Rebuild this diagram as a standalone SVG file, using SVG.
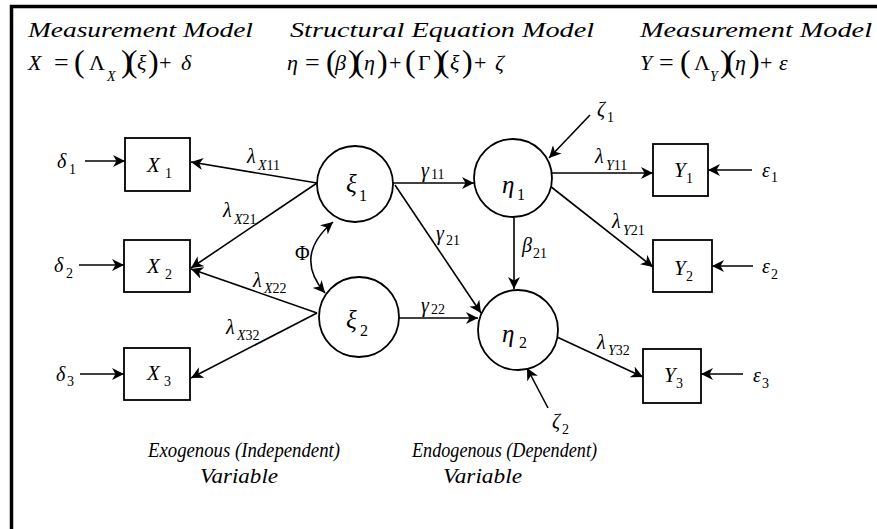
<svg xmlns="http://www.w3.org/2000/svg" width="877" height="529" viewBox="0 0 877 529">
<defs>
<marker id="ah" markerWidth="13" markerHeight="12" refX="12" refY="6" orient="auto-start-reverse" markerUnits="userSpaceOnUse">
<path d="M0,0 L12,6 L0,12 L3.5,6 Z" fill="#000"/>
</marker>
</defs>
<style>
text{font-family:"Liberation Serif","Times New Roman",serif;fill:#000}
.it{font-style:italic}
.hd{font-size:20px;font-style:italic}
.eq{font-size:22px}
.eqs{font-size:26px}
.par{font-size:32px}
.pp{font-size:32px;letter-spacing:-5px}
.sub{font-size:14px}
.nl{font-size:21px;font-style:italic}
.gl{font-size:25px;font-style:italic}
.gs{font-size:16px}
.el{font-size:20px;font-style:italic}
.ft{font-size:22px;font-style:italic}
.edge{stroke:#000;stroke-width:1.6;fill:none;marker-end:url(#ah)}
.box,.circ{fill:#fff;stroke:#000;stroke-width:1.8}
</style>
<rect width="877" height="529" fill="#fff"/>
<path d="M11.5,529 V6.5 H877" fill="none" stroke="#000" stroke-width="3.5"/>

<g id="headers">
<text class="hd" x="28" y="37" textLength="225" lengthAdjust="spacingAndGlyphs">Measurement Model</text>
<text class="hd" x="290" y="37" textLength="304" lengthAdjust="spacingAndGlyphs">Structural Equation Model</text>
<text class="hd" x="640" y="37" textLength="232" lengthAdjust="spacingAndGlyphs">Measurement Model</text>
</g>

<g id="equations">
<text class="eq"><tspan class="it" x="28" y="70">X</tspan><tspan class="eqs" x="54" y="71">=</tspan><tspan class="par" x="74" y="72">(</tspan><tspan x="89" y="70">Λ</tspan><tspan class="sub it" x="107" y="81">X</tspan><tspan class="pp" x="121" y="72">)(</tspan><tspan class="it" x="137" y="70">ξ</tspan><tspan class="par" x="148" y="72">)</tspan><tspan x="159" y="70">+</tspan><tspan class="it" x="181" y="70">δ</tspan></text>
<text class="eq"><tspan class="it" x="287" y="70">η</tspan><tspan class="eqs" x="305" y="71">=</tspan><tspan class="par" x="326" y="72">(</tspan><tspan class="it" x="335" y="70">β</tspan><tspan class="pp" x="348" y="72">)(</tspan><tspan class="it" x="364" y="70">η</tspan><tspan class="par" x="377" y="72">)</tspan><tspan x="389" y="70">+</tspan><tspan class="par" x="405" y="72">(</tspan><tspan x="418" y="70">Γ</tspan><tspan class="pp" x="433" y="72">)(</tspan><tspan class="it" x="450" y="70">ξ</tspan><tspan class="par" x="462" y="72">)</tspan><tspan x="474" y="70">+</tspan><tspan class="it" x="495" y="70">ζ</tspan></text>
<text class="eq"><tspan class="it" x="640" y="70">Y</tspan><tspan class="eqs" x="659" y="71">=</tspan><tspan class="par" x="680" y="72">(</tspan><tspan x="694" y="70">Λ</tspan><tspan class="sub it" x="710" y="81">Y</tspan><tspan class="pp" x="720" y="72">)(</tspan><tspan class="it" x="735" y="70">η</tspan><tspan class="par" x="749" y="72">)</tspan><tspan x="760" y="70">+</tspan><tspan class="it" x="779" y="70">ε</tspan></text>
</g>

<g id="connectors">
<line class="edge" x1="85" y1="161" x2="125" y2="161"/>
<line class="edge" x1="79" y1="265" x2="124" y2="265"/>
<line class="edge" x1="80" y1="374" x2="124" y2="374"/>
<line class="edge" x1="317" y1="183" x2="191" y2="162"/>
<line class="edge" x1="317" y1="183" x2="191" y2="268"/>
<line class="edge" x1="317" y1="313" x2="191" y2="269"/>
<line class="edge" x1="317" y1="313" x2="191" y2="378"/>
<path class="edge" d="M333,222 Q293,256 325,293" marker-start="url(#ah)"/>
<line class="edge" x1="393" y1="183" x2="474" y2="183"/>
<line class="edge" x1="395" y1="185" x2="481" y2="313"/>
<line class="edge" x1="399" y1="318" x2="478" y2="318"/>
<line class="edge" x1="514" y1="218" x2="514" y2="289"/>
<line class="edge" x1="590" y1="115" x2="549" y2="158"/>
<line class="edge" x1="548" y1="408" x2="527" y2="368"/>
<line class="edge" x1="552" y1="173" x2="653" y2="173"/>
<line class="edge" x1="550" y1="186" x2="653" y2="267"/>
<line class="edge" x1="557" y1="337" x2="643" y2="377"/>
<line class="edge" x1="752" y1="170" x2="708" y2="170"/>
<line class="edge" x1="753" y1="266" x2="712" y2="266"/>
<line class="edge" x1="743" y1="374" x2="701" y2="374"/>
</g>

<g id="X1"><rect class="box" x="125" y="138" width="65" height="53"/><text class="nl" x="147" y="172">X<tspan class="sub" font-style="normal" x="165" y="178">1</tspan></text></g>
<g id="X2"><rect class="box" x="124" y="240" width="66" height="52"/><text class="nl" x="147" y="273">X<tspan class="sub" font-style="normal" x="165" y="279">2</tspan></text></g>
<g id="X3"><rect class="box" x="124" y="348" width="66" height="52"/><text class="nl" x="147" y="380">X<tspan class="sub" font-style="normal" x="164" y="386">3</tspan></text></g>

<g id="Y1"><rect class="box" x="653" y="144" width="55" height="52"/><text class="nl" x="674" y="177">Y<tspan class="sub" font-style="normal" x="686" y="183">1</tspan></text></g>
<g id="Y2"><rect class="box" x="653" y="240" width="59" height="52"/><text class="nl" x="674" y="275">Y<tspan class="sub" font-style="normal" x="686" y="281">2</tspan></text></g>
<g id="Y3"><rect class="box" x="643" y="349" width="58" height="54"/><text class="nl" x="664" y="382">Y<tspan class="sub" font-style="normal" x="676" y="388">3</tspan></text></g>

<g id="xi1"><circle class="circ" cx="355" cy="184" r="38"/><text class="gl" x="346" y="192">ξ<tspan class="gs" font-style="normal" x="359" y="201">1</tspan></text></g>
<g id="xi2"><circle class="circ" cx="359" cy="317" r="40"/><text class="gl" x="346" y="328">ξ<tspan class="gs" font-style="normal" x="360" y="336">2</tspan></text></g>
<g id="eta1"><circle class="circ" cx="513" cy="178" r="39"/><text class="gl" x="502" y="193">η<tspan class="gs" font-style="normal" x="517" y="200">1</tspan></text></g>
<g id="eta2"><circle class="circ" cx="518" cy="330" r="40"/><text class="gl" x="502" y="342">η<tspan class="gs" font-style="normal" x="519" y="348">2</tspan></text></g>

<g id="errors">
<text class="el" x="57" y="168">δ<tspan class="sub" font-style="normal" x="69" y="174">1</tspan></text>
<text class="el" x="54" y="272">δ<tspan class="sub" font-style="normal" x="66" y="278">2</tspan></text>
<text class="el" x="56" y="381">δ<tspan class="sub" font-style="normal" x="67" y="386">3</tspan></text>
<text class="el" x="762" y="177">ε<tspan class="sub" font-style="normal" x="771" y="182">1</tspan></text>
<text class="el" x="762" y="273">ε<tspan class="sub" font-style="normal" x="771" y="279">2</tspan></text>
<text class="el" x="753" y="382">ε<tspan class="sub" font-style="normal" x="762" y="388">3</tspan></text>
<text class="el" x="597" y="116">ζ<tspan class="sub" font-style="normal" x="607" y="122">1</tspan></text>
<text class="el" x="552" y="428">ζ<tspan class="sub" font-style="normal" x="562" y="434">2</tspan></text>
</g>

<g id="edge-labels">
<text class="el" x="247" y="163">λ<tspan class="sub" x="258" y="170">X</tspan><tspan class="sub" font-style="normal">11</tspan></text>
<text class="el" x="223" y="217">λ<tspan class="sub" x="234" y="224">X</tspan><tspan class="sub" font-style="normal">21</tspan></text>
<text class="el" x="253" y="287">λ<tspan class="sub" x="264" y="293">X</tspan><tspan class="sub" font-style="normal">22</tspan></text>
<text class="el" x="226" y="334">λ<tspan class="sub" x="237" y="340">X</tspan><tspan class="sub" font-style="normal">32</tspan></text>
<text class="el" x="421" y="177">γ<tspan class="sub" font-style="normal" x="431" y="179">11</tspan></text>
<text class="el" x="436" y="240">γ<tspan class="sub" font-style="normal" x="446" y="245">21</tspan></text>
<text class="el" x="421" y="312">γ<tspan class="sub" font-style="normal" x="431" y="314">22</tspan></text>
<text class="el" x="522" y="252">β<tspan class="sub" font-style="normal" x="533" y="258">21</tspan></text>
<text class="el" x="595" y="163">λ<tspan class="sub" x="606" y="170">Y</tspan><tspan class="sub" font-style="normal">11</tspan></text>
<text class="el" x="612" y="228">λ<tspan class="sub" x="623" y="235">Y</tspan><tspan class="sub" font-style="normal">21</tspan></text>
<text class="el" x="597" y="349">λ<tspan class="sub" x="608" y="355">Y</tspan><tspan class="sub" font-style="normal">32</tspan></text>
<text x="295" y="260" font-size="20">Φ</text>
</g>

<g id="footer">
<text class="ft" x="148" y="457" textLength="192" lengthAdjust="spacingAndGlyphs">Exogenous (Independent)</text>
<text class="ft" x="412" y="457" textLength="185" lengthAdjust="spacingAndGlyphs">Endogenous (Dependent)</text>
<text class="ft" x="200" y="483" textLength="78" lengthAdjust="spacingAndGlyphs">Variable</text>
<text class="ft" x="443" y="483" textLength="79" lengthAdjust="spacingAndGlyphs">Variable</text>
</g>
</svg>
